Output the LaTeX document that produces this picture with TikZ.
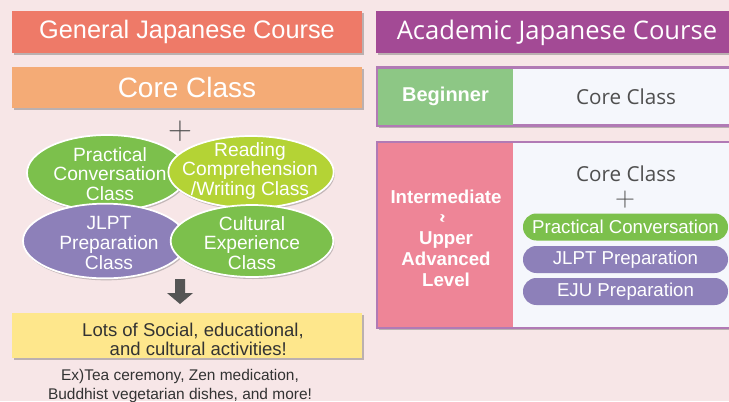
\documentclass[tikz,border=0pt]{standalone}
\usepackage{fontspec}
\setmainfont{Liberation Sans}
\newfontfamily\hdfont{Open Sans}
\newfontfamily\dejavu{DejaVu Sans}
\usetikzlibrary{shapes.geometric,shadows}
\definecolor{bg}{HTML}{F7E6E7}
\definecolor{genhead}{HTML}{EE7A68}
\definecolor{coreor}{HTML}{F4AB76}
\definecolor{yel}{HTML}{FEE78C}
\definecolor{acad}{HTML}{A34A95}
\definecolor{framep}{HTML}{B17AB5}
\definecolor{begg}{HTML}{8DC785}
\definecolor{pinkc}{HTML}{EE8597}
\definecolor{lightc}{HTML}{F5F7FC}
\definecolor{greene}{HTML}{7CC04C}
\definecolor{yge}{HTML}{B4D335}
\definecolor{purpe}{HTML}{8D80B9}
\definecolor{arrg}{HTML}{555555}
\definecolor{txtd}{HTML}{333333}
\definecolor{txtg}{HTML}{4F4F4F}
\tikzset{
  shad/.style={drop shadow={shadow xshift=1.5pt,shadow yshift=-1.8pt,opacity=0.35,fill=black!70}},
  bar/.style={rectangle,inner sep=0pt,shad,minimum width=262.5pt,minimum height=31.5pt,text=white},
  ell/.style={ellipse,draw=white,line width=1.3pt,inner sep=0pt,
    drop shadow={shadow xshift=0.8pt,shadow yshift=-1.5pt,opacity=0.3,fill=black!70}},
  elltxt/.style={text=white,align=center,inner sep=0pt,font=\fontsize{14.4pt}{14.9pt}\selectfont},
  pill/.style={rectangle,rounded corners=10pt,inner sep=0pt,minimum width=153.75pt,minimum height=20.25pt,
    text=white,font=\fontsize{14pt}{14pt}\selectfont},
  frame/.style={rectangle,draw=framep,line width=1.8pt,fill=lightc,inner sep=0pt,shad},
  cell/.style={rectangle,inner sep=0pt,minimum width=101.25pt,text=white,align=center,
    font=\bfseries\fontsize{14pt}{15.6pt}\selectfont},
}
\begin{document}
\begin{tikzpicture}[x=0.75pt,y=-0.75pt]
\useasboundingbox (0,0) rectangle (729,401);
\clip (0,0) rectangle (729,401);
\fill[bg] (0,0) rectangle (729,401);
% left column
\node[bar,fill=genhead,font=\fontsize{19pt}{19pt}\selectfont] (gen) at (187,32) {General Japanese Course};
\node[bar,fill=coreor,minimum height=30.75pt,font=\fontsize{21pt}{21pt}\selectfont] (core) at (187,87.5) {Core Class};
\node[text=txtg,font=\fontsize{26pt}{26pt}\selectfont,inner sep=0pt] (plusL) at (180,131) {$+$};
\node[ell,fill=greene,minimum width=120pt,minimum height=57pt] (prac) at (107,173) {};
\node[elltxt] (pract) at (110,174) {Practical\\Conversation\\Class};
\node[ell,fill=yge,minimum width=124pt,minimum height=54pt] (read) at (251,172) {};
\node[elltxt] (readt) at (250,171) {Reading\\Comprehension\\/Writing Class};
\node[ell,fill=purpe,minimum width=123pt,minimum height=56pt] (jlpt) at (105,241) {};
\node[elltxt] (jlptt) at (109,243) {JLPT\\Preparation\\Class};
\node[ell,fill=greene,minimum width=122pt,minimum height=54pt] (cult) at (252,241) {};
\node[elltxt] (cultt) at (252,243) {Cultural\\Experience\\Class};
\coordinate (arrtop) at (180,279);
\fill[arrg] (arrtop) ++(-5,0) -- ++(0,14) -- ++(-8,0) -- ++(13,11) -- ++(13,-11) -- ++(-8,0) -- ++(0,-14) -- cycle;
\node[bar,fill=yel,minimum height=33.75pt] (act) at (187,335.5) {};
\node[text=txtd,align=center,inner sep=0pt,font=\fontsize{13.9pt}{14.3pt}\selectfont] (actt) at (193,339)
  {Lots of Social, educational,\\\hspace*{8pt}and cultural activities!};
\node[text=txtd,align=center,inner sep=0pt,font=\fontsize{11.6pt}{13.6pt}\selectfont] (ex) at (180,386)
  {Ex)Tea ceremony, Zen medication,\\Buddhist vegetarian dishes, and more!};
% right column
\node[rectangle,inner sep=0pt,shad,fill=acad,minimum width=288pt,minimum height=31.5pt] (acadh) at (568,32) {};
\node[text=white,font=\hdfont\fontsize{19.2pt}{19.2pt}\selectfont,inner sep=0pt] (acadt) at (557,33) {Academic Japanese Course};
\node[frame,minimum width=288pt,minimum height=43.5pt] (begf) at (569,96.5) {};
\node[cell,fill=begg,minimum height=42pt] (beg) at (445.5,96.5) {\fontsize{15pt}{15pt}\selectfont Beginner};
\node[text=txtg,font=\hdfont\fontsize{15.5pt}{15.5pt}\selectfont,inner sep=0pt] (coreB) at (626,97) {Core Class};
\node[frame,minimum width=288pt,minimum height=139.5pt] (intf) at (569,235) {};
\node[cell,fill=pinkc,minimum height=138pt] (intc) at (445.5,235) {};
\node[text=white,align=center,inner sep=0pt,font=\bfseries\fontsize{14pt}{15.6pt}\selectfont] (intt) at (446,238)
  {Intermediate\\{\dejavu\mdseries\fontsize{9pt}{9pt}\selectfont\rotatebox{90}{\scalebox{1}[2.5]{∼}}}\\Upper\\Advanced\\Level};
\node[text=txtg,font=\hdfont\fontsize{15.5pt}{15.5pt}\selectfont,inner sep=0pt] (coreI) at (626,174) {Core Class};
\node[text=txtg,font=\fontsize{20pt}{20pt}\selectfont,inner sep=0pt] (plusR) at (625,200) {$+$};
\node[pill,fill=greene] (p1) at (625.5,227) {Practical Conversation};
\node[pill,fill=purpe] (p2) at (625.5,259.5) {JLPT Preparation};
\node[pill,fill=purpe] (p3) at (625.5,291.5) {EJU Preparation};
\end{tikzpicture}
\end{document}
